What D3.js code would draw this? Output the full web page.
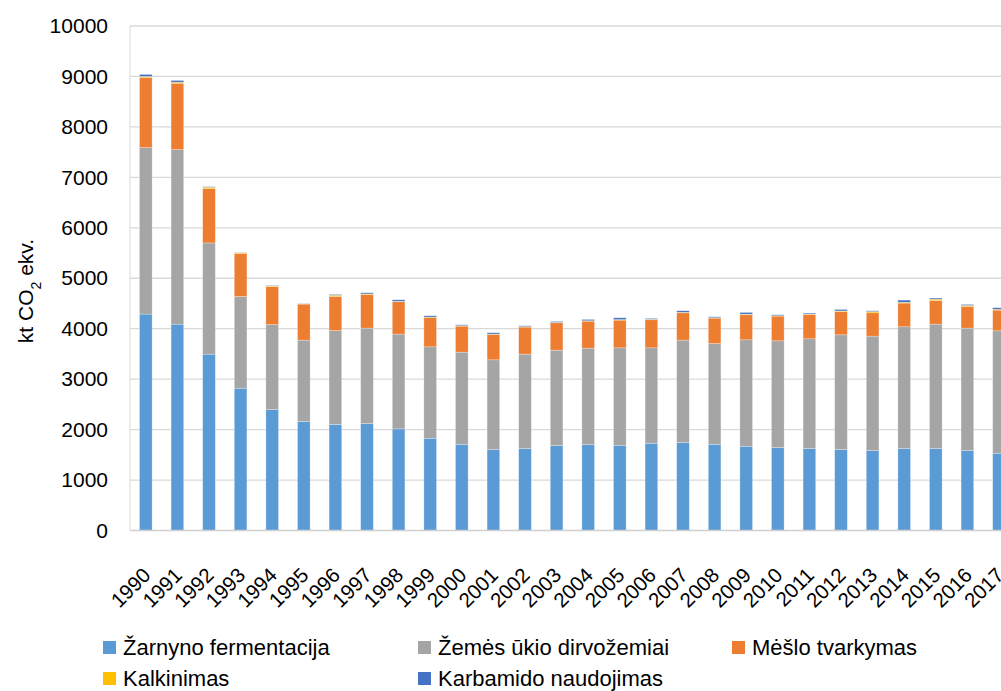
<!DOCTYPE html>
<html>
<head>
<meta charset="utf-8">
<script src="https://cdn.jsdelivr.net/npm/d3@7/dist/d3.min.js"></script>
<style>
  html, body { margin: 0; padding: 0; background: #fff; }
  svg { display: block; }
  text { font-family: "Liberation Sans", Arial, sans-serif; fill: #000; }
</style>
</head>
<body>
<svg id="chart" width="1001" height="691"></svg>
<script>
const years = ["1990","1991","1992","1993","1994","1995","1996","1997","1998","1999","2000","2001","2002","2003","2004","2005","2006","2007","2008","2009","2010","2011","2012","2013","2014","2015","2016","2017"];
const zarnyno   = [4290,4090,3496,2821,2397,2159,2100,2119,2014,1829,1710,1604,1623,1683,1703,1690,1730,1742,1710,1670,1643,1623,1604,1584,1623,1623,1584,1532];
const dirvozemiai = [3300,3460,2204,1818,1686,1615,1864,1893,1879,1812,1825,1779,1873,1892,1912,1931,1891,2032,1996,2110,2117,2177,2275,2269,2415,2468,2428,2426];
const mesloTvarkymas = [1390,1316,1080,856,754,714,675,667,641,581,516,502,536,542,535,549,556,541,504,496,490,482,463,462,470,469,429,411];
const kalkinimas = [20,20,25,10,10,6,25,10,10,8,10,8,10,8,8,10,10,10,8,12,8,8,10,25,15,25,20,15];
const karbamido  = [40,34,10,5,10,6,15,23,29,26,16,26,16,18,25,36,16,30,18,34,18,19,29,15,44,22,19,31];
const seriesNames = ["Žarnyno fermentacija","Žemės ūkio dirvožemiai","Mėšlo tvarkymas","Kalkinimas","Karbamido naudojimas"];
const seriesColors = ["#5b9bd5","#a5a5a5","#ed7d31","#ffc000","#4472c4"];
const yTicks = [0,1000,2000,3000,4000,5000,6000,7000,8000,9000,10000];

const seriesValues = [zarnyno, dirvozemiai, mesloTvarkymas, kalkinimas, karbamido];
const keys = seriesNames;
const table = years.map((y, i) => {
  const row = { year: y };
  keys.forEach((k, j) => row[k] = seriesValues[j][i]);
  return row;
});

const svg = d3.select("#chart");
const plotLeft = 130, plotTop = 26, plotBottom = 530.5;
const step = 31.6;

const x = d3.scaleBand().domain(years)
  .range([plotLeft, plotLeft + step * years.length])
  .paddingInner(0.6).paddingOuter(0.3);
const y = d3.scaleLinear().domain([0, 10000]).range([plotBottom, plotTop]);

// gridlines
svg.append("g").selectAll("line").data(yTicks.filter(d => d > 0)).join("line")
  .attr("x1", plotLeft).attr("x2", 1001)
  .attr("y1", d => y(d)).attr("y2", d => y(d))
  .attr("stroke", "#d9d9d9").attr("stroke-width", 1.3);

// left border
svg.append("line").attr("x1", plotLeft).attr("x2", plotLeft)
  .attr("y1", plotTop).attr("y2", plotBottom)
  .attr("stroke", "#d9d9d9").attr("stroke-width", 1);

// stacked bars
const stack = d3.stack().keys(keys);
const stacked = stack(table);
svg.append("g").selectAll("g").data(stacked).join("g")
  .attr("fill", (d, i) => seriesColors[i])
  .selectAll("rect").data(d => d).join("rect")
  .attr("x", d => x(d.data.year))
  .attr("width", x.bandwidth())
  .attr("y", d => y(d[1]))
  .attr("height", d => Math.max(0, y(d[0]) - y(d[1])))
  .attr("stroke", "#ffffff").attr("stroke-opacity", 0.45).attr("stroke-width", 0.6);

// x axis line
svg.append("line").attr("x1", plotLeft).attr("x2", 1001)
  .attr("y1", plotBottom).attr("y2", plotBottom)
  .attr("stroke", "#d0d0d0").attr("stroke-width", 1.5);

// y tick labels via axis
const yAxis = d3.axisLeft(y).tickValues(yTicks).tickSize(0).tickPadding(0).tickFormat(d3.format("d"));
const gy = svg.append("g").attr("transform", `translate(108,0)`).call(yAxis);
gy.select(".domain").remove();
gy.selectAll("text").attr("font-size", 21).attr("font-family", "Liberation Sans, Arial, sans-serif").attr("fill", "#000");

// x tick labels via axis
const xAxis = d3.axisBottom(x).tickSize(0);
const gx = svg.append("g").attr("transform", `translate(0,${plotBottom})`).call(xAxis);
gx.select(".domain").remove();
gx.selectAll("text")
  .attr("font-size", 20.5).attr("font-family", "Liberation Sans, Arial, sans-serif").attr("fill", "#000")
  .attr("text-anchor", "end")
  .attr("dy", null).attr("y", null)
  .attr("transform", "translate(6,46) rotate(-45)");

// y title
svg.append("text")
  .attr("transform", "translate(33,291) rotate(-90)")
  .attr("text-anchor", "middle")
  .attr("font-size", 21)
  .html('kt CO<tspan baseline-shift="sub" font-size="14">2</tspan> ekv.');

// legend
const legendItems = [
  { i: 0, x: 103, y: 641 },
  { i: 1, x: 418, y: 641 },
  { i: 2, x: 732, y: 641 },
  { i: 3, x: 103, y: 672 },
  { i: 4, x: 418, y: 672 }
];
const lg = svg.append("g").selectAll("g").data(legendItems).join("g")
  .attr("transform", d => `translate(${d.x},${d.y})`);
lg.append("rect").attr("width", 13).attr("height", 13).attr("fill", d => seriesColors[d.i]);
lg.append("text").attr("x", 20).attr("y", 14).attr("font-size", 22).text(d => seriesNames[d.i]);
</script>
</body>
</html>
